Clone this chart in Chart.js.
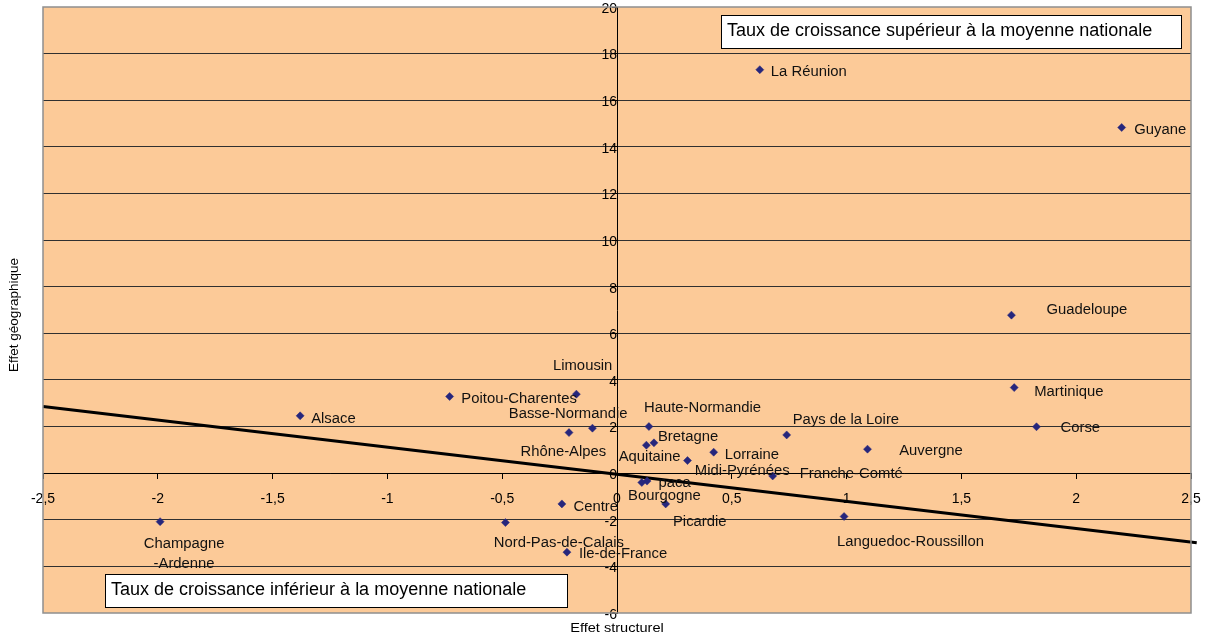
<!DOCTYPE html>
<html lang="fr">
<head>
<meta charset="utf-8">
<script src="https://cdn.jsdelivr.net/npm/chart.js@4/dist/chart.umd.min.js"></script>
<style>
  html, body { margin: 0; padding: 0; background: #ffffff; }
  #wrap { width: 1208px; height: 636px; position: relative; }
</style>
</head>
<body>
<div id="wrap"><canvas id="chart"></canvas></div>
<script>
// Régions : effet structurel (abscisse) et effet géographique (ordonnée)
const regions = [
  'Alsace', 'Aquitaine', 'Auvergne', 'Basse-Normandie', 'Bourgogne', 'Bretagne',
  'Centre', 'Champagne-Ardenne', 'Corse', 'Franche-Comté', 'Haute-Normandie',
  'Ile-de-France', 'Languedoc-Roussillon', 'Limousin', 'Lorraine', 'Midi-Pyrénées',
  'Nord-Pas-de-Calais', 'Pays de la Loire', 'Picardie', 'Poitou-Charentes', 'paca',
  'Rhône-Alpes', 'Guadeloupe', 'Martinique', 'Guyane', 'La Réunion'
];
const effetStructurel = [
  -1.38, 0.128, 1.091, -0.107, 0.108, 0.161,
  -0.24, -1.99, 1.827, 0.678, 0.139,
  -0.218, 0.989, -0.177, 0.421, 0.307,
  -0.486, 0.739, 0.212, -0.729, 0.131,
  -0.209, 1.718, 1.730, 2.198, 0.622
];
const effetGeographique = [
  2.46, 1.20, 1.03, 1.93, -0.40, 1.30,
  -1.32, -2.08, 1.99, -0.12, 2.00,
  -3.39, -1.86, 3.39, 0.90, 0.54,
  -2.12, 1.64, -1.32, 3.29, -0.34,
  1.74, 6.78, 3.67, 14.83, 17.31
];

// Droite d'ajustement (extrémités)
const trendX = [-2.5, 2.525];
const trendY = [2.855, -2.99];

// Graduations
const xTickValues = [-2.5, -2, -1.5, -1, -0.5, 0, 0.5, 1, 1.5, 2, 2.5];
const xTickLabels = ['-2,5', '-2', '-1,5', '-1', '-0,5', '0', '0,5', '1', '1,5', '2', '2,5'];
const yTickValues = [-6, -4, -2, 0, 2, 4, 6, 8, 10, 12, 14, 16, 18, 20];
const yTickLabels = ['-6', '-4', '-2', '0', '2', '4', '6', '8', '10', '12', '14', '16', '18', '20'];

// Textes
const xTitle = 'Effet structurel';
const yTitle = 'Effet géographique';
const noteAbove = 'Taux de croissance supérieur à la moyenne nationale';
const noteBelow = 'Taux de croissance inférieur à la moyenne nationale';

// Placement des étiquettes de région, en pixels par rapport au point
const labelPlacement = {
  'Alsace': [11, 1.7],
  'Aquitaine': [-27.7, 10.5],
  'Auvergne': [31.7, 0],
  'Basse-Normandie': [-83.7, -15.8],
  'Bourgogne': [-13.7, 12],
  'Bretagne': [4, -7.5],
  'Centre': [11.6, 1],
  'Champagne-Ardenne': [24, 20.3, 'center'],
  'Corse': [24, 0],
  'Franche-Comté': [27, -3.3],
  'Haute-Normandie': [-5, -20.5],
  'Ile-de-France': [12, 0],
  'Languedoc-Roussillon': [-7, 24],
  'Limousin': [-23.4, -29.7],
  'Lorraine': [11, 1.5],
  'Midi-Pyrénées': [7.3, 9],
  'Nord-Pas-de-Calais': [-11.7, 19],
  'Pays de la Loire': [6, -16.3],
  'Picardie': [7.3, 16.8],
  'Poitou-Charentes': [11.7, 1],
  'paca': [11.5, 0.5],
  'Rhône-Alpes': [-48.6, 17.3],
  'Guadeloupe': [35, -7],
  'Martinique': [20, 3],
  'Guyane': [12.5, 0.5],
  'La Réunion': [11, 0.5]
};
const wrappedLabels = { 'Champagne-Ardenne': ['Champagne', '-Ardenne'] };

const FONT = "'Liberation Sans', Arial, Helvetica, sans-serif";
const PLOT_FILL = '#fcca98';
const POINT_COLOR = '#26267c';

const points = regions.map((r, i) => ({ x: effetStructurel[i], y: effetGeographique[i] }));
const trend = trendX.map((x, i) => ({ x, y: trendY[i] }));

const plotBackground = {
  id: 'plotBackground',
  beforeDraw(chart) {
    const { ctx, chartArea: a } = chart;
    ctx.save();
    ctx.fillStyle = PLOT_FILL;
    ctx.fillRect(a.left, a.top, a.right - a.left, a.bottom - a.top);
    ctx.restore();
  },
  afterDraw(chart) {
    const { ctx, chartArea: a } = chart;
    ctx.save();
    ctx.strokeStyle = '#8f8f8f';
    ctx.lineWidth = 1.5;
    ctx.strokeRect(a.left, a.top, a.right - a.left, a.bottom - a.top);
    ctx.restore();
  }
};

const regionLabels = {
  id: 'regionLabels',
  afterDatasetsDraw(chart) {
    const { ctx } = chart;
    const meta = chart.getDatasetMeta(0);
    ctx.save();
    ctx.fillStyle = '#111111';
    ctx.font = '14px ' + FONT;
    ctx.textBaseline = 'middle';
    regions.forEach((name, i) => {
      const el = meta.data[i];
      const p = labelPlacement[name] || [10, 0];
      const lines = wrappedLabels[name] || [name];
      ctx.save();
      ctx.translate(el.x + p[0], el.y + p[1] + 1.8);
      ctx.scale(1.06, 1);
      ctx.textAlign = p[2] === 'center' ? 'center' : 'left';
      lines.forEach((t, k) => ctx.fillText(t, 0, k * 20));
      ctx.restore();
    });
    ctx.restore();
  }
};

const annotations = {
  id: 'annotations',
  afterDraw(chart) {
    const { ctx } = chart;
    ctx.save();
    // cadres de commentaire
    const boxes = [
      { text: noteAbove, x: 721, y: 15, w: 460, h: 33 },
      { text: noteBelow, x: 105, y: 574, w: 462, h: 33 }
    ];
    boxes.forEach(b => {
      ctx.fillStyle = '#ffffff';
      ctx.fillRect(b.x, b.y, b.w, b.h);
      ctx.strokeStyle = '#000000';
      ctx.lineWidth = 1;
      ctx.strokeRect(b.x + 0.5, b.y + 0.5, b.w, b.h);
      ctx.fillStyle = '#000000';
      ctx.font = '18px ' + FONT;
      ctx.textAlign = 'left';
      ctx.textBaseline = 'middle';
      ctx.fillText(b.text, b.x + 6, b.y + b.h / 2);
    });
    // titres des axes
    ctx.fillStyle = '#000000';
    ctx.font = '13px ' + FONT;
    ctx.textAlign = 'center';
    ctx.textBaseline = 'middle';
    ctx.save();
    ctx.translate(617, 628);
    ctx.scale(1.12, 1);
    ctx.fillText(xTitle, 0, 0);
    ctx.restore();
    ctx.save();
    ctx.translate(14, 315);
    ctx.rotate(-Math.PI / 2);
    ctx.font = '13.5px ' + FONT;
    ctx.fillText(yTitle, 0, 0);
    ctx.restore();
    ctx.restore();
  }
};

new Chart(document.getElementById('chart'), {
  type: 'scatter',
  data: {
    datasets: [
      {
        label: 'Régions',
        data: points,
        pointStyle: 'rectRot',
        pointRadius: 4,
        pointBackgroundColor: POINT_COLOR,
        pointBorderColor: POINT_COLOR,
        pointBorderWidth: 0.5,
        order: 0
      },
      {
        type: 'line',
        label: 'Tendance',
        data: trend,
        borderColor: '#000000',
        borderWidth: 3,
        pointRadius: 0,
        fill: false,
        clip: false,
        order: 1
      }
    ]
  },
  options: {
    responsive: true,
    maintainAspectRatio: false,
    animation: false,
    events: [],
    layout: { padding: { left: 43, top: 7, right: 17, bottom: 23 } },
    plugins: {
      legend: { display: false },
      tooltip: { enabled: false }
    },
    scales: {
      x: {
        type: 'linear',
        position: { y: 0 },
        min: -2.5,
        max: 2.5,
        afterBuildTicks: s => { s.ticks = xTickValues.map(v => ({ value: v })); },
        afterFit: s => {
          s.height = 0;
          s.paddingLeft = 0; s.paddingRight = 0; s.paddingTop = 0; s.paddingBottom = 0;
        },
        ticks: {
          autoSkip: false,
          maxRotation: 0,
          padding: 13,
          color: '#000000',
          font: { family: FONT, size: 14 },
          callback: v => xTickLabels[xTickValues.indexOf(v)]
        },
        grid: {
          drawOnChartArea: false,
          drawTicks: true,
          tickLength: 5,
          tickColor: '#000000',
          tickWidth: 1
        },
        border: { display: true, color: '#000000', width: 1 }
      },
      y: {
        type: 'linear',
        position: { x: 0 },
        min: -6,
        max: 20,
        afterBuildTicks: s => { s.ticks = yTickValues.map(v => ({ value: v })); },
        afterFit: s => {
          s.width = 0;
          s.paddingLeft = 0; s.paddingRight = 0; s.paddingTop = 0; s.paddingBottom = 0;
        },
        ticks: {
          autoSkip: false,
          padding: 7,
          labelOffset: 2,
          color: '#000000',
          font: { family: FONT, size: 14 },
          callback: v => yTickLabels[yTickValues.indexOf(v)]
        },
        grid: {
          color: c => (c.tick && (c.tick.value === 20 || c.tick.value === -6)) ? 'rgba(0,0,0,0)' : '#303030',
          lineWidth: 1,
          drawTicks: true,
          tickLength: 5,
          tickColor: '#000000',
          tickWidth: 1
        },
        border: { display: true, color: '#000000', width: 1 }
      }
    }
  },
  plugins: [plotBackground, regionLabels, annotations]
});
</script>
</body>
</html>
